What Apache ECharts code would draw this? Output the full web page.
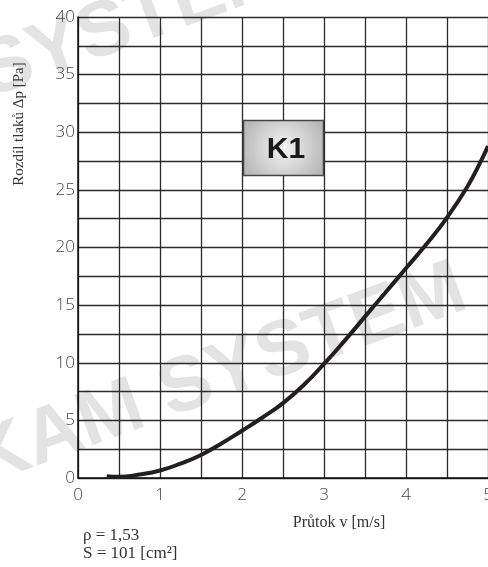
<!DOCTYPE html>
<html>
<head>
<meta charset="utf-8">
<script src="https://cdn.jsdelivr.net/npm/echarts@6/dist/echarts.min.js"></script>
<style>
  html, body { margin: 0; padding: 0; background: #fff; }
  #chart { width: 488px; height: 567px; }
</style>
</head>
<body>
<div id="chart"></div>
<script>
// flow velocity [m/s] vs. pressure drop [Pa]
const flowV = [0.35, 0.5, 0.75, 1.0, 1.25, 1.5, 1.75, 2.0, 2.25, 2.5, 2.75, 3.0, 3.25, 3.5, 3.75, 4.0, 4.25, 4.5, 4.75, 4.9, 5.0];
const dropP = [0.15, 0.1, 0.3, 0.65, 1.25, 2.0, 3.0, 4.1, 5.25, 6.5, 8.05, 9.9, 11.9, 14.0, 16.1, 18.2, 20.3, 22.6, 25.3, 27.3, 28.8];

const xTicks = [0, 1, 2, 3, 4, 5];
const yTicks = [0, 5, 10, 15, 20, 25, 30, 35, 40];

const chart = echarts.init(document.getElementById("chart"), null, { renderer: "canvas" });

const tickFont = { fontFamily: "Open Sans", fontWeight: 300, fontSize: 17, color: "#444" };
const serif = "Liberation Serif";

chart.setOption({
  animation: false,
  backgroundColor: "#fff",
  grid: { left: 78, top: 17, width: 410, height: 461, containLabel: false, outerBoundsMode: "none" },
  xAxis: {
    type: "value", min: 0, max: 5, interval: 0.5,
    axisLine: { show: true, lineStyle: { color: "#111", width: 1.5 } },
    axisTick: { show: false },
    axisLabel: {
      ...tickFont, margin: 9, showMaxLabel: true, hideOverlap: false,
      formatter: (v) => xTicks.includes(v) ? String(v) : "",
    },
    splitLine: { show: true, lineStyle: { color: "#2a2a2a", width: 1.3 } },
  },
  yAxis: {
    type: "value", min: 0, max: 40, interval: 2.5,
    axisLine: { show: true, lineStyle: { color: "#111", width: 1.5 } },
    axisTick: { show: false },
    axisLabel: {
      ...tickFont, margin: 3,
      formatter: (v) => yTicks.includes(v) ? String(v) : "",
    },
    splitLine: { show: true, lineStyle: { color: "#2a2a2a", width: 1.3 } },
  },
  graphic: [
    // watermark
    {
      type: "text", x: -12, y: 502, rotation: 0.35, z: -5, silent: true,
      style: { text: "KAM SYSTEM", font: "bold 78px 'Liberation Sans'", fill: "#e3e3e3",
               textAlign: "left", textVerticalAlign: "bottom" },
    },
    {
      type: "text", x: -4, y: 114, rotation: 0.35, z: -5, silent: true,
      style: { text: "SYSTEM", font: "bold 78px 'Liberation Sans'", fill: "#e3e3e3",
               textAlign: "left", textVerticalAlign: "bottom" },
    },
    // K1 badge
    {
      type: "rect", z: 10, shape: { x: 243.5, y: 120.5, width: 80, height: 55 },
      style: {
        fill: new echarts.graphic.RadialGradient(0.5, 0.5, 0.75, [
          { offset: 0, color: "#f4f4f4" }, { offset: 1, color: "#b8b8b8" },
        ]),
        stroke: "#444", lineWidth: 1.5,
      },
    },
    {
      type: "text", z: 11, x: 286, y: 150,
      style: { text: "K1", font: "bold 30px 'Liberation Sans'", fill: "#1a1a1a",
               textAlign: "center", textVerticalAlign: "middle" },
    },
    // axis titles
    {
      type: "text", x: 19, y: 124, rotation: Math.PI / 2,
      style: { text: "Rozdíl tlaků Δp [Pa]", font: `15px '${serif}'`, fill: "#333",
               textAlign: "center", textVerticalAlign: "middle" },
    },
    {
      type: "text", x: 339, y: 523,
      style: { text: "Průtok v [m/s]", font: `16px '${serif}'`, fill: "#333",
               textAlign: "center", textVerticalAlign: "middle" },
    },
    {
      type: "text", x: 83, y: 536,
      style: { text: "ρ = 1,53", font: `17px '${serif}'`, fill: "#333",
               textAlign: "left", textVerticalAlign: "middle" },
    },
    {
      type: "text", x: 83, y: 554,
      style: { text: "S = 101 [cm²]", font: `17px '${serif}'`, fill: "#333",
               textAlign: "left", textVerticalAlign: "middle" },
    },
  ],
  series: [{
    type: "line",
    data: flowV.map((v, i) => [v, dropP[i]]),
    smooth: 0.5,
    showSymbol: false,
    clip: true,
    lineStyle: { color: "#231f20", width: 4 },
    z: 5,
  }],
});
</script>
</body>
</html>
